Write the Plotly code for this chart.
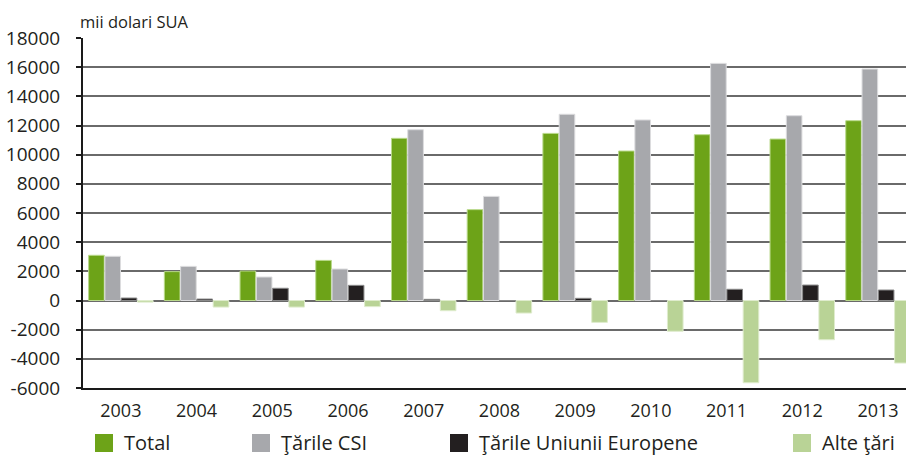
import plotly.graph_objects as go

years = ["2003", "2004", "2005", "2006", "2007", "2008", "2009", "2010", "2011", "2012", "2013"]
total = [3100, 1980, 2020, 2750, 11120, 6230, 11460, 10250, 11370, 11070, 12330]
csi = [3030, 2340, 1610, 2160, 11710, 7140, 12770, 12380, 16260, 12670, 15870]
ue = [170, 100, 840, 1040, 80, 0, 150, 0, 770, 1060, 720]
alte = [-110, -450, -450, -420, -700, -860, -1500, -2110, -5640, -2690, -4290]

series_names = ["Total", "Ţările CSI", "Ţările Uniunii Europene", "Alte ţări"]
series_values = [total, csi, ue, alte]
series_colors = ["#6da318", "#a7a8ac", "#231f20", "#b9d396"]
line_colors = ["#b9d98a", "#dcdcde", "#8a8a8a", "#dfeccd"]

ytick_vals = list(range(-6000, 18001, 2000))
ytick_text = [str(v) for v in ytick_vals]
unit_label = "mii dolari SUA"

W, H = 906, 455
ML, MR, MT, MB = 83, 0, 38, 67
PW, PH = W - ML - MR, H - MT - MB

def px(xp):
    return (xp - ML) / PW

def py(yp):
    return (H - MB - yp) / PH

fig = go.Figure()
for name, vals, col, lc in zip(series_names, series_values, series_colors, line_colors):
    fig.add_trace(go.Bar(x=years, y=vals, name=name, marker=dict(color=col, line=dict(color=lc, width=1)),
                         showlegend=False))

font_col = "#231f20"
xr_end = 10.37

fig.update_layout(
    width=W, height=H,
    margin=dict(l=ML, r=MR, t=MT, b=MB, pad=0),
    plot_bgcolor="white", paper_bgcolor="white",
    barmode="group", bargap=0.14, bargroupgap=0.04,
    font=dict(family="Open Sans", color=font_col),
    xaxis=dict(type="category", range=[-0.5, xr_end], showline=True, linecolor="#1a1a1a", linewidth=2,
               ticks="", showgrid=False, tickfont=dict(size=18, color=font_col), ticklabelstandoff=5,
               fixedrange=True),
    xaxis2=dict(overlaying="x", anchor="free", position=0.25, side="bottom", range=[-0.5, xr_end],
                showline=True, linecolor="#1a1a1a", linewidth=2, ticks="outside", ticklen=6,
                tickwidth=1.5, tickcolor="#1a1a1a", tickvals=[i + 0.5 for i in range(10)],
                showticklabels=False, showgrid=False, zeroline=False),
    yaxis=dict(range=[-6000, 18000], tickvals=ytick_vals, ticktext=ytick_text, showline=True,
               linecolor="#1a1a1a", linewidth=2, ticks="outside", ticklen=5, tickcolor="#1a1a1a",
               tickwidth=1.5, showgrid=True, gridcolor="#6a6a6a", gridwidth=1.5, zeroline=False,
               tickfont=dict(size=19, color=font_col), ticklabelstandoff=12),
)

fig.add_annotation(text=unit_label, xref="paper", yref="paper", x=px(78), y=py(22), xanchor="left",
                   yanchor="middle", showarrow=False, font=dict(size=16.5, color=font_col))

leg_sq_x = [95, 252, 450, 793]
for name, col, sx in zip(series_names, series_colors, leg_sq_x):
    fig.add_shape(type="rect", xref="paper", yref="paper", x0=px(sx), x1=px(sx + 18), y0=py(452), y1=py(434),
                  fillcolor=col, line=dict(width=0))
    fig.add_annotation(text=name, xref="paper", yref="paper", x=px(sx + 27), y=py(443), xanchor="left",
                       yanchor="middle", showarrow=False, font=dict(size=20, color=font_col))

fig.write_html("out.html", config={"displayModeBar": False},
               post_script="document.body.style.margin='0';document.body.style.overflow='hidden';")
